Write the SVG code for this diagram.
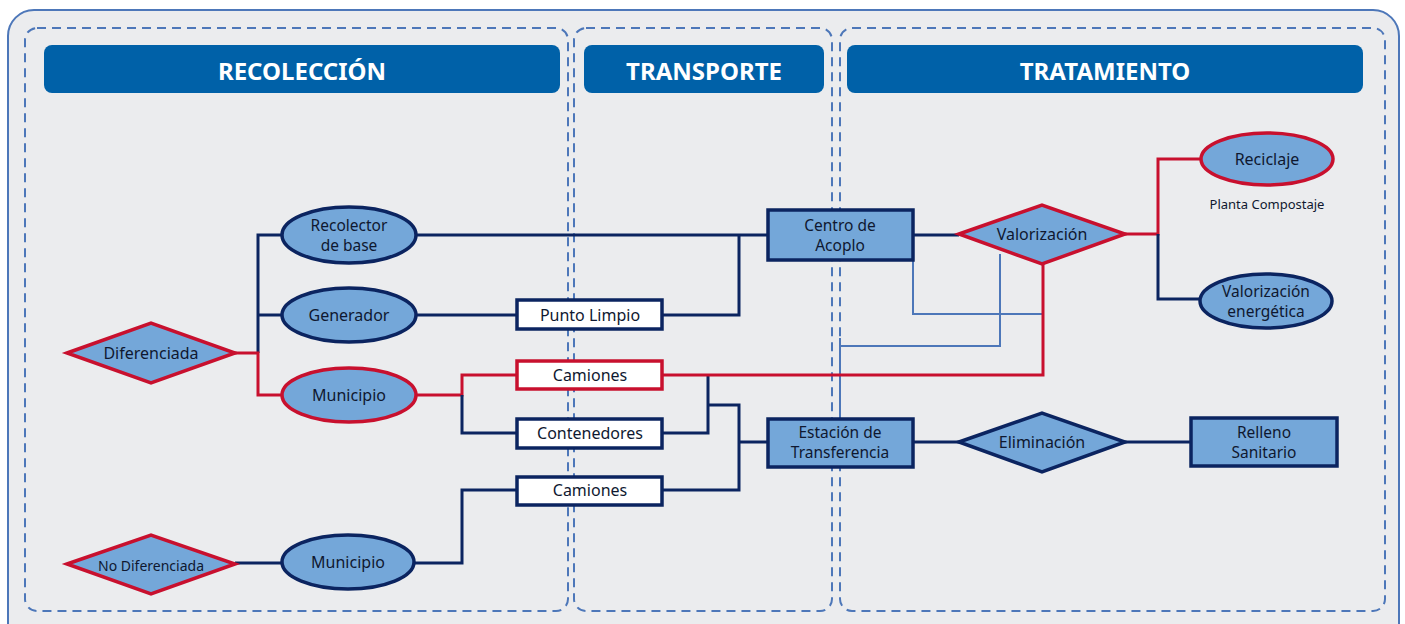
<svg xmlns="http://www.w3.org/2000/svg" width="1405" height="624" viewBox="0 0 1405 624">
<style>
.panel{fill:none;stroke:#4d77b9;stroke-width:2;stroke-dasharray:9 6}
.hdr{fill:#0061a8}
.htxt{fill:#fff;font-family:"Noto Sans","Liberation Sans",sans-serif;font-weight:bold;font-size:24px;text-anchor:middle;dominant-baseline:central}
.t{fill:#0f1830;font-family:"Noto Sans","Liberation Sans",sans-serif;font-size:16px;text-anchor:middle;dominant-baseline:central}
.t2{fill:#0f1830;font-family:"Noto Sans","Liberation Sans",sans-serif;font-size:15.5px;text-anchor:middle;dominant-baseline:central}
.nv{fill:#74a7d9;stroke:#0b2460;stroke-width:3.5}
.rd{fill:#74a7d9;stroke:#c8102e;stroke-width:3.5}
.bw{fill:#fff;stroke:#0b2460;stroke-width:3.5}
.bwr{fill:#fff;stroke:#c8102e;stroke-width:3.5}
.cn{fill:none;stroke:#0b2460;stroke-width:3}
.cr{fill:none;stroke:#c8102e;stroke-width:3}
.cb{fill:none;stroke:#4d77b9;stroke-width:2}
</style>
<rect x="0" y="0" width="1405" height="624" fill="#fff"/>
<rect x="8" y="10" width="1391" height="640" rx="26" fill="#ebecee" stroke="#4d77b9" stroke-width="2"/>
<g id="panels">
<rect class="panel" x="25" y="28" width="543" height="583" rx="12"/>
<rect class="panel" x="574" y="28" width="258" height="583" rx="12"/>
<rect class="panel" x="840" y="28" width="545" height="583" rx="12"/>
</g>
<g id="header-recoleccion"><rect class="hdr" x="44" y="45" width="516" height="48" rx="8"/><text class="htxt" x="302" y="70">RECOLECCIÓN</text></g>
<g id="header-transporte"><rect class="hdr" x="584" y="45" width="240" height="48" rx="8"/><text class="htxt" x="704" y="70">TRANSPORTE</text></g>
<g id="header-tratamiento"><rect class="hdr" x="847" y="45" width="516" height="48" rx="8"/><text class="htxt" x="1105" y="70">TRATAMIENTO</text></g>

<g id="connectors">
<polyline class="cn" points="282,235 258,235 258,353"/>
<line class="cn" x1="258" y1="315" x2="282" y2="315"/>
<polyline class="cr" points="235,353 258,353 258,395 282,395"/>
<line class="cn" x1="416" y1="235" x2="768" y2="235"/>
<line class="cn" x1="416" y1="315" x2="517" y2="315"/>
<polyline class="cn" points="662,315 739,315 739,235"/>
<polyline class="cr" points="416,395 462,395 462,375 517,375"/>
<polyline class="cn" points="462,395 462,433 517,433"/>
<polyline class="cn" points="662,433 708,433 708,375"/>
<polyline class="cn" points="708,405 739,405 739,490 662,490"/>
<line class="cn" x1="739" y1="442" x2="768" y2="442"/>
<polyline class="cn" points="414,563 462,563 462,490 517,490"/>
<line class="cn" x1="235" y1="563" x2="282" y2="563"/>
<polyline class="cb" points="913,260 913,314 1043,314"/>
<polyline class="cb" points="1000,254 1000,346 840,346"/>
<line class="cb" x1="840" y1="338" x2="840" y2="419"/>
<polyline class="cr" points="662,375 1043,375 1043,264"/>
<line class="cn" x1="913" y1="235" x2="959" y2="235"/>
<polyline class="cr" points="1125,234 1158,234 1158,159 1201,159"/>
<polyline class="cn" points="1158,234 1158,299 1200,299"/>
<line class="cn" x1="913" y1="442" x2="959" y2="442"/>
<line class="cn" x1="1125" y1="442" x2="1191" y2="442"/>
</g>

<g id="diferenciada"><polygon class="rd" points="67,353 151,323 235,353 151,383"/><text class="t" x="151" y="353">Diferenciada</text></g>
<g id="no-diferenciada"><polygon class="rd" points="67,564 151,535 235,564 151,594"/><text class="t" x="151" y="565" style="font-size:14px">No Diferenciada</text></g>
<g id="recolector"><ellipse class="nv" cx="349" cy="235" rx="67" ry="28"/><text class="t2" x="349" y="225">Recolector</text><text class="t2" x="349" y="245">de base</text></g>
<g id="generador"><ellipse class="nv" cx="349" cy="315" rx="67" ry="27"/><text class="t" x="349" y="315">Generador</text></g>
<g id="municipio-dif"><ellipse class="rd" cx="349" cy="395" rx="67" ry="27"/><text class="t" x="349" y="395">Municipio</text></g>
<g id="municipio-nodif"><ellipse class="nv" cx="348" cy="562" rx="66" ry="27"/><text class="t" x="348" y="562">Municipio</text></g>
<g id="punto-limpio"><rect class="bw" x="517" y="300" width="145" height="29"/><text class="t" x="590" y="315">Punto Limpio</text></g>
<g id="camiones-dif"><rect class="bwr" x="517" y="361" width="145" height="28"/><text class="t" x="590" y="375">Camiones</text></g>
<g id="contenedores"><rect class="bw" x="517" y="419" width="145" height="29"/><text class="t" x="590" y="433">Contenedores</text></g>
<g id="camiones-nodif"><rect class="bw" x="517" y="477" width="145" height="28"/><text class="t" x="590" y="490">Camiones</text></g>
<g id="centro-acoplo"><rect class="nv" x="768" y="210" width="145" height="50"/><text class="t2" x="840" y="225">Centro de</text><text class="t2" x="840" y="245">Acoplo</text></g>
<g id="estacion-transferencia"><rect class="nv" x="768" y="419" width="145" height="48"/><text class="t2" x="840" y="432">Estación de</text><text class="t2" x="840" y="452">Transferencia</text></g>
<g id="valorizacion"><polygon class="rd" points="959,234 1042,205 1125,234 1042,264"/><text class="t" x="1042" y="234">Valorización</text></g>
<g id="eliminacion"><polygon class="nv" points="959,442 1042,413 1125,442 1042,472"/><text class="t" x="1042" y="442">Eliminación</text></g>
<g id="reciclaje"><ellipse class="rd" cx="1267" cy="159" rx="66" ry="26"/><text class="t" x="1267" y="159">Reciclaje</text></g>
<g id="planta-compostaje"><text class="t" x="1267" y="204" style="font-size:13px">Planta Compostaje</text></g>
<g id="valorizacion-energetica"><ellipse class="nv" cx="1266" cy="301" rx="66" ry="27"/><text class="t2" x="1266" y="291">Valorización</text><text class="t2" x="1266" y="311">energética</text></g>
<g id="relleno-sanitario"><rect class="nv" x="1191" y="418" width="146" height="48"/><text class="t2" x="1264" y="432">Relleno</text><text class="t2" x="1264" y="452">Sanitario</text></g>
</svg>
